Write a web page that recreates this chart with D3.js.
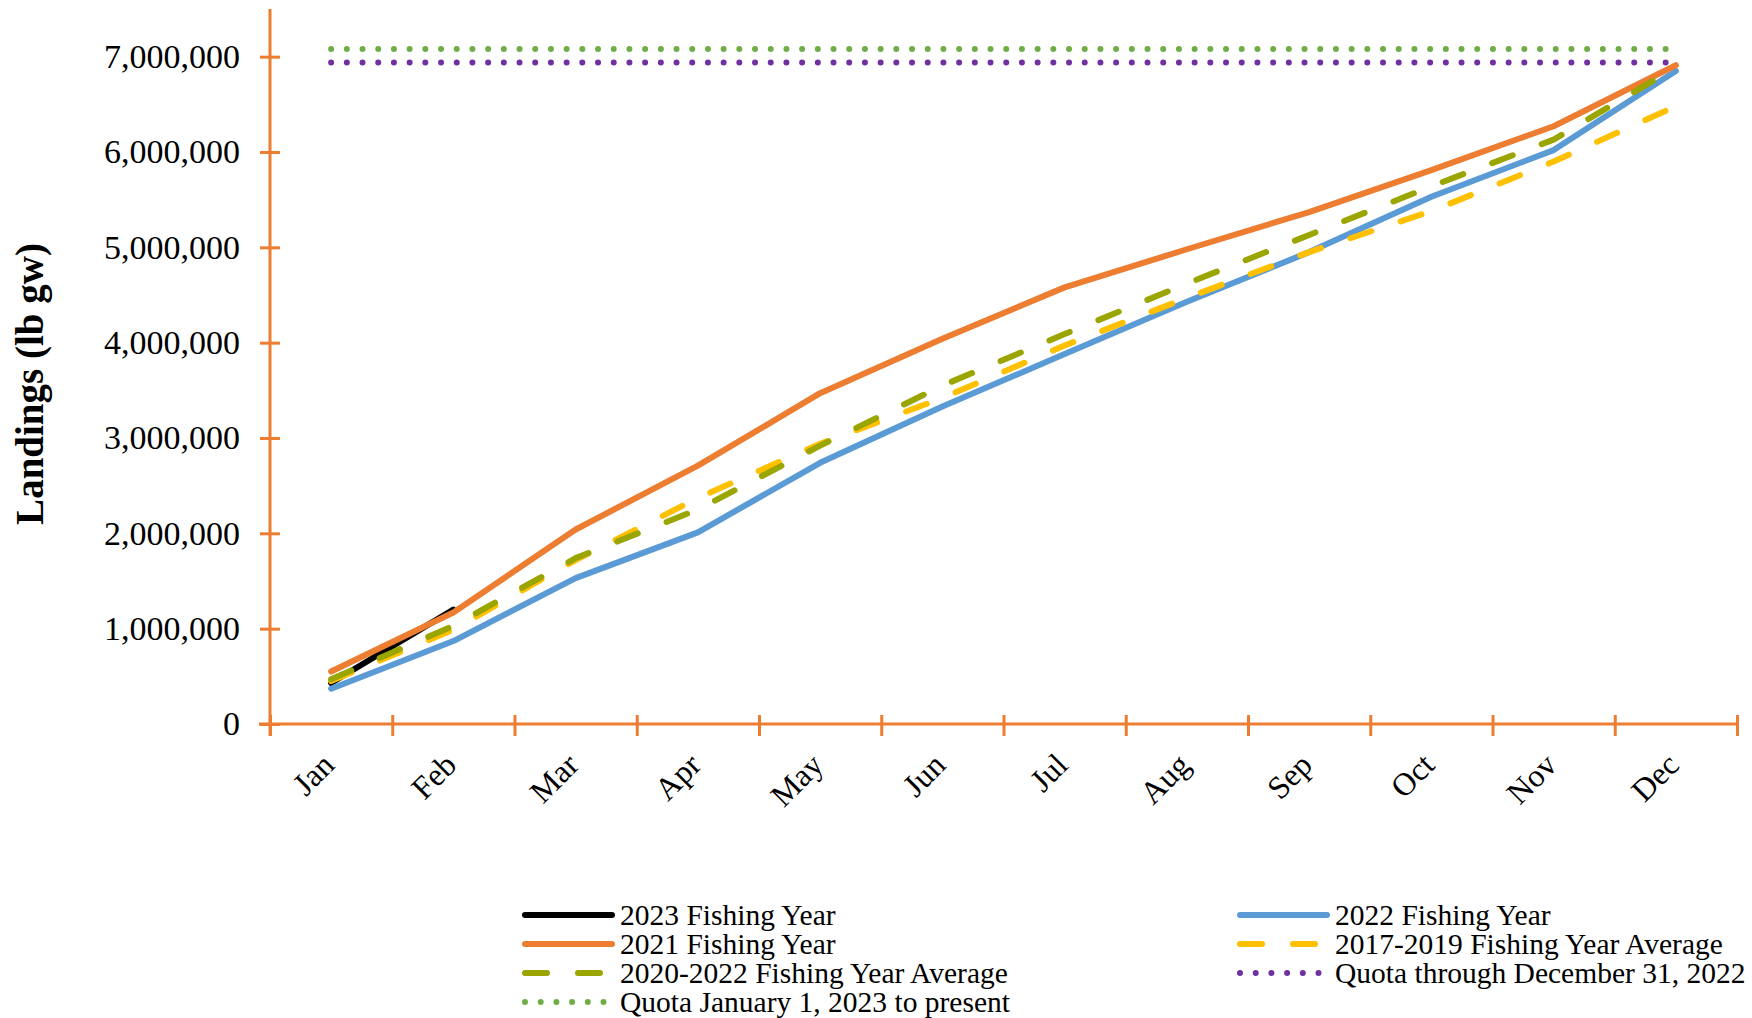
<!DOCTYPE html>
<html>
<head>
<meta charset="utf-8">
<script src="https://cdn.jsdelivr.net/npm/d3@7"></script>
<style>
  html, body { margin: 0; padding: 0; background: #ffffff; }
  svg { display: block; }
</style>
</head>
<body>
<svg id="chart" width="1752" height="1018"></svg>
<script>
// ---- data ----
const months = ["Jan","Feb","Mar","Apr","May","Jun","Jul","Aug","Sep","Oct","Nov","Dec"];
const fy2023 = [430000, 1200000];
const fy2022 = [370000, 870000, 1530000, 2010000, 2740000, 3330000, 3880000, 4430000, 4950000, 5530000, 6020000, 6850000];
const fy2021 = [550000, 1170000, 2040000, 2710000, 3470000, 4040000, 4580000, 4980000, 5370000, 5810000, 6270000, 6910000];
const avg2017_2019 = [450000, 990000, 1720000, 2370000, 2940000, 3420000, 3970000, 4470000, 4950000, 5380000, 5900000, 6480000];
const avg2020_2022 = [470000, 1030000, 1740000, 2250000, 2920000, 3550000, 4090000, 4620000, 5130000, 5640000, 6130000, 6890000];
const quotaThrough2022 = [6940000, 6940000, 6940000, 6940000, 6940000, 6940000, 6940000, 6940000, 6940000, 6940000, 6940000, 6940000];
const quotaFrom2023 = [7080000, 7080000, 7080000, 7080000, 7080000, 7080000, 7080000, 7080000, 7080000, 7080000, 7080000, 7080000];
const yTicks = [0, 1000000, 2000000, 3000000, 4000000, 5000000, 6000000, 7000000];
const yTitle = "Landings (lb gw)";

// series table built from the arrays (draw order = Excel series order)
const series = [
  { name: "2023 Fishing Year", values: fy2023, color: "#000000", dash: null },
  { name: "2022 Fishing Year", values: fy2022, color: "#5B9BD5", dash: null },
  { name: "2021 Fishing Year", values: fy2021, color: "#ED7D31", dash: null },
  { name: "2017-2019 Fishing Year Average", values: avg2017_2019, color: "#FFC000", dash: "22,31" },
  { name: "2020-2022 Fishing Year Average", values: avg2020_2022, color: "#9BA500", dash: "22,31" },
  { name: "Quota through December 31, 2022", values: quotaThrough2022, color: "#7030A0", dash: "0,15.7" },
  { name: "Quota January 1, 2023 to present", values: quotaFrom2023, color: "#70AD47", dash: "0,15.7" }
];

const AXIS = "#ED7D31";
const FONT = "'Liberation Serif', 'Times New Roman', serif";

const svg = d3.select("#chart");

const x = d3.scaleBand().domain(months).range([270, 1737]);
const xEdge = d3.scaleLinear().domain([0, 12]).range([270, 1737]);
const y = d3.scaleLinear().domain([0, 7500000]).range([724, 9]);

// ---- lines ----
const line = d3.line()
  .x((d, i) => x(months[i]) + x.bandwidth() / 2)
  .y(d => y(d));

const gLines = svg.append("g");
series.forEach(s => {
  gLines.append("path")
    .datum(s.values)
    .attr("d", line)
    .attr("fill", "none")
    .attr("stroke", s.color)
    .attr("stroke-width", 6)
    .attr("stroke-linecap", "round")
    .attr("stroke-linejoin", "round")
    .attr("stroke-dasharray", s.dash);
});

// ---- y axis ----
const gy = svg.append("g")
  .attr("transform", "translate(270,0)")
  .call(d3.axisLeft(y).tickValues(yTicks).tickFormat(d3.format(",")).tickSize(10).tickPadding(20));
gy.select(".domain").remove();
gy.selectAll(".tick line").attr("x1", -10).attr("x2", 10).attr("stroke", AXIS).attr("stroke-width", 3);
gy.selectAll(".tick text").attr("font-family", FONT).attr("font-size", 34).attr("fill", "#000");
svg.append("line").attr("x1", 270).attr("x2", 270).attr("y1", 9).attr("y2", 736)
  .attr("stroke", AXIS).attr("stroke-width", 3);

// ---- x axis ----
const gxTicks = svg.append("g")
  .attr("transform", "translate(0,724)")
  .call(d3.axisBottom(xEdge).tickValues(d3.range(13)).tickFormat("").tickSize(12));
gxTicks.select(".domain").remove();
gxTicks.selectAll(".tick line").attr("y1", -9).attr("y2", 12).attr("stroke", AXIS).attr("stroke-width", 3);
svg.append("line").attr("x1", 259).attr("x2", 1737).attr("y1", 724).attr("y2", 724)
  .attr("stroke", AXIS).attr("stroke-width", 3);

const gx = svg.append("g")
  .attr("transform", "translate(0,724)")
  .call(d3.axisBottom(x).tickSize(0).tickPadding(0));
gx.select(".domain").remove();
gx.selectAll(".tick text")
  .attr("font-family", FONT).attr("font-size", 32).attr("fill", "#000")
  .attr("text-anchor", "end")
  .attr("dy", null).attr("y", null)
  .attr("transform", "translate(5,43) rotate(-45)");

// ---- y axis title ----
svg.append("text")
  .attr("transform", "translate(43,384) rotate(-90)")
  .attr("text-anchor", "middle")
  .attr("font-family", FONT).attr("font-size", 39).attr("font-weight", "bold")
  .attr("fill", "#000")
  .text(yTitle);

// ---- legend ----
const legendPos = [
  { col: 0, row: 0 }, { col: 1, row: 0 },
  { col: 0, row: 1 }, { col: 1, row: 1 },
  { col: 0, row: 2 }, { col: 1, row: 2 },
  { col: 0, row: 3 }
];
const colX = [525, 1240];
const rowY = [915, 944, 973, 1002];
const gLeg = svg.append("g");
series.forEach((s, i) => {
  const p = legendPos[i];
  const lx = colX[p.col], ly = rowY[p.row];
  gLeg.append("line")
    .attr("x1", lx).attr("x2", lx + 87).attr("y1", ly).attr("y2", ly)
    .attr("stroke", s.color).attr("stroke-width", 6)
    .attr("stroke-linecap", "round")
    .attr("stroke-dasharray", s.dash);
  gLeg.append("text")
    .attr("x", lx + 95).attr("y", ly)
    .attr("dominant-baseline", "central")
    .attr("font-family", FONT).attr("font-size", 29.5).attr("fill", "#000")
    .text(s.name);
});
</script>
</body>
</html>
